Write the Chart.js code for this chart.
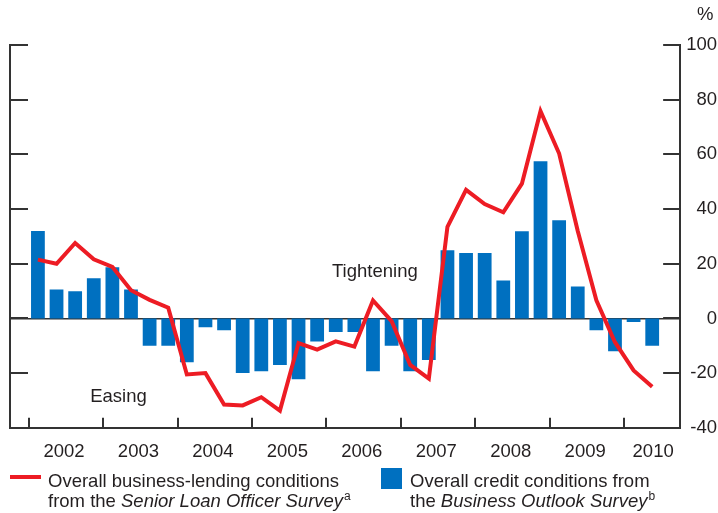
<!DOCTYPE html>
<html>
<head>
<meta charset="utf-8">
<script src="https://cdn.jsdelivr.net/npm/chart.js@4.4.1/dist/chart.umd.min.js"></script>
<style>
  html, body { margin: 0; padding: 0; background: #fff; }
  #wrap { position: relative; width: 718px; height: 513px; font-family: "Liberation Sans", Arial, sans-serif; color: #231f20; }
  canvas { position: absolute; left: 0; top: 0; }
  .t { position: absolute; font-size: 18.5px; line-height: 1; white-space: nowrap; }
  .sup { font-size: 12px; position: relative; top: -7px; margin-left: 1px; }
  .sw { position: absolute; }
</style>
</head>
<body>
<div id="wrap">
  <canvas id="c" width="718" height="513"></canvas>
  <div class="t" style="left:697px; top:5px;">%</div>
  <div class="sw" style="left:10px; top:475px; width:31px; height:4px; background:#ed1c24;"></div>
  <div class="t" style="left:48px; top:472px;">Overall business-lending conditions</div>
  <div class="t" style="left:48px; top:492px;">from the <i>Senior Loan Officer Survey</i><span class="sup">a</span></div>
  <div class="sw" style="left:381px; top:468px; width:21px; height:21px; background:#0070c0;"></div>
  <div class="t" style="left:410px; top:472px;">Overall credit conditions from</div>
  <div class="t" style="left:410px; top:492px;">the <i>Business Outlook Survey</i><span class="sup">b</span></div>
</div>
<script>
// Quarters from 2001 Q4 to 2010 Q3 (axis span)
const quarters = [
  '2001Q4',
  '2002Q1','2002Q2','2002Q3','2002Q4',
  '2003Q1','2003Q2','2003Q3','2003Q4',
  '2004Q1','2004Q2','2004Q3','2004Q4',
  '2005Q1','2005Q2','2005Q3','2005Q4',
  '2006Q1','2006Q2','2006Q3','2006Q4',
  '2007Q1','2007Q2','2007Q3','2007Q4',
  '2008Q1','2008Q2','2008Q3','2008Q4',
  '2009Q1','2009Q2','2009Q3','2009Q4',
  '2010Q1','2010Q2','2010Q3'
];
// Overall credit conditions (Business Outlook Survey) - bars
const creditConditions = [
  null,
  32, 10.6, 9.9, 14.7,
  18.7, 10.6, -10, -10,
  -16, -3.2, -4.3, -20,
  -19.3, -17, -22.2, -8.4,
  -5, -5, -19.3, -10,
  -19.3, -15.2, 24.9, 23.9,
  23.9, 13.9, 31.9, 57.5,
  35.9, 11.7, -4.3, -12,
  -1.3, -10, null
];
// Overall business-lending conditions (Senior Loan Officer Survey) - line
const lendingConditions = [
  null,
  21.5, 20, 27.6, 21.6,
  18.8, 10.3, 6.8, 3.9,
  -20.5, -20, -31.5, -31.8,
  -28.8, -33.7, -9, -11.4,
  -8.4, -10.3, 6.6, -1,
  -17, -22, 33.5, 47,
  41.8, 38.8, 49.3, 75.8,
  60.3, 32, 6.6, -8.7,
  -19, -25, null
];
const yearLabels = ['2002','2003','2004','2005','2006','2007','2008','2009','2010'];
// label anchor positions in quarter units
const yearLabelPos = [2.9, 6.9, 10.9, 14.9, 18.9, 22.9, 26.9, 30.9, 34.55];
const yearBoundaries = [1, 5, 9, 13, 17, 21, 25, 29, 33];
const yTicks = [-40, -20, 0, 20, 40, 60, 80, 100];
const annotations = [
  { text: 'Tightening', x: 19.6, y: 15.1 },
  { text: 'Easing', x: 5.83, y: -30.6 }
];

const FONT = '"Liberation Sans", Arial, sans-serif';
const INK = '#231f20';
const AXIS = '#333333';

const toXY = arr => arr.map((v, i) => (v === null ? null : { x: i + 0.5, y: v })).filter(p => p);

const decor = {
  id: 'decor',
  beforeDatasetsDraw(chart) {
    const { ctx, chartArea: a, scales } = chart;
    const y = scales.y, x = scales.x;
    ctx.save();
    ctx.strokeStyle = AXIS;
    ctx.lineWidth = 2;
    yTicks.forEach(v => {
      const py = Math.round(y.getPixelForValue(v));
      ctx.beginPath();
      ctx.moveTo(a.left, py); ctx.lineTo(a.left + 18, py);
      ctx.moveTo(a.right - 17, py); ctx.lineTo(a.right, py);
      ctx.stroke();
    });
    yearBoundaries.forEach(v => {
      const px = Math.round(x.getPixelForValue(v));
      ctx.beginPath();
      ctx.moveTo(px, a.bottom); ctx.lineTo(px, a.bottom - 10);
      ctx.stroke();
    });
    ctx.restore();
  },
  afterDatasetsDraw(chart) {
    const { ctx, scales } = chart;
    ctx.save();
    ctx.fillStyle = INK;
    ctx.font = '18.5px ' + FONT;
    ctx.textAlign = 'center';
    ctx.textBaseline = 'alphabetic';
    annotations.forEach(an => {
      ctx.fillText(an.text, scales.x.getPixelForValue(an.x), scales.y.getPixelForValue(an.y));
    });
    ctx.restore();
  }
};

new Chart(document.getElementById('c'), {
  type: 'bar',
  data: {
    datasets: [
      {
        type: 'line',
        label: 'Overall business-lending conditions',
        data: toXY(lendingConditions),
        borderColor: '#ed1c24',
        borderWidth: 4,
        pointRadius: 0,
        tension: 0,
        fill: false,
        order: 0
      },
      {
        type: 'bar',
        label: 'Overall credit conditions',
        data: toXY(creditConditions),
        backgroundColor: '#0070c0',
        borderWidth: 0,
        barPercentage: 0.74,
        categoryPercentage: 1,
        order: 1
      }
    ]
  },
  options: {
    responsive: false,
    animation: false,
    devicePixelRatio: 1,
    layout: { padding: { left: 10, right: 1, top: 45, bottom: 37 } },
    plugins: { legend: { display: false }, tooltip: { enabled: false } },
    scales: {
      x: {
        type: 'linear',
        position: 'bottom',
        min: 0,
        max: 36,
        offset: false,
        grid: { display: false, drawTicks: false },
        border: { display: true, color: AXIS, width: 2 },
        afterBuildTicks: axis => { axis.ticks = yearLabelPos.map(v => ({ value: v })); },
        ticks: {
          autoSkip: false,
          maxRotation: 0,
          padding: 13,
          color: INK,
          font: { family: FONT, size: 18.5 },
          callback: (v, i) => yearLabels[i]
        }
      },
      y2: {
        type: 'linear',
        position: 'left',
        min: -40,
        max: 100,
        grid: { display: false, drawTicks: false },
        border: { display: true, color: AXIS, width: 2 },
        ticks: { display: false }
      },
      y: {
        type: 'linear',
        position: 'right',
        min: -40,
        max: 100,
        afterBuildTicks: axis => { axis.ticks = yTicks.map(v => ({ value: v })); },
        grid: {
          drawTicks: false,
          color: c => (c.tick && c.tick.value === 0 ? AXIS : 'rgba(0,0,0,0)'),
          lineWidth: 1.5
        },
        border: { display: true, color: AXIS, width: 2 },
        ticks: {
          padding: 3,
          crossAlign: 'far',
          color: INK,
          font: { family: FONT, size: 18.5 }
        }
      }
    }
  },
  plugins: [decor]
});
</script>
</body>
</html>
